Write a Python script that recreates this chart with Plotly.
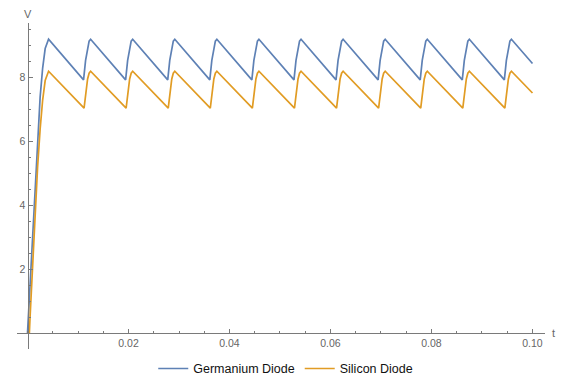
import plotly.graph_objects as go

# Germanium diode output (t in s, V in volts)
ge_t = [0, 0.0005, 0.001, 0.0015, 0.002, 0.0025, 0.003, 0.0035, 0.00417,
        0.0111, 0.0115, 0.0119, 0.0122, 0.0125,
        0.01943, 0.01983, 0.02023, 0.02053, 0.02083,
        0.02777, 0.02817, 0.02857, 0.02887, 0.02917,
        0.0361, 0.0365, 0.0369, 0.0372, 0.0375,
        0.04443, 0.04483, 0.04523, 0.04553, 0.04583,
        0.05277, 0.05317, 0.05357, 0.05387, 0.05417,
        0.0611, 0.0615, 0.0619, 0.0622, 0.0625,
        0.06943, 0.06983, 0.07023, 0.07053, 0.07083,
        0.07777, 0.07817, 0.07857, 0.07887, 0.07917,
        0.0861, 0.0865, 0.0869, 0.0872, 0.0875,
        0.09443, 0.09483, 0.09523, 0.09553, 0.09583,
        0.1]
ge_v = [0, 1.47, 3.19, 4.78, 6.19, 7.37, 8.28, 8.89, 9.18,
        7.91, 8.52, 8.94, 9.12, 9.18,
        7.91, 8.52, 8.94, 9.12, 9.18,
        7.91, 8.52, 8.94, 9.12, 9.18,
        7.91, 8.52, 8.94, 9.12, 9.18,
        7.91, 8.52, 8.94, 9.12, 9.18,
        7.91, 8.52, 8.94, 9.12, 9.18,
        7.91, 8.52, 8.94, 9.12, 9.18,
        7.91, 8.52, 8.94, 9.12, 9.18,
        7.91, 8.52, 8.94, 9.12, 9.18,
        7.91, 8.52, 8.94, 9.12, 9.18,
        7.91, 8.52, 8.94, 9.12, 9.18,
        8.42]

# Silicon diode output
si_t = [0, 0.00037, 0.0005, 0.001, 0.0015, 0.002, 0.0025, 0.003, 0.0035, 0.00417,
        0.0112, 0.0115, 0.0119, 0.0122, 0.0125,
        0.01953, 0.01983, 0.02023, 0.02053, 0.02083,
        0.02787, 0.02817, 0.02857, 0.02887, 0.02917,
        0.0362, 0.0365, 0.0369, 0.0372, 0.0375,
        0.04453, 0.04483, 0.04523, 0.04553, 0.04583,
        0.05287, 0.05317, 0.05357, 0.05387, 0.05417,
        0.0612, 0.0615, 0.0619, 0.0622, 0.0625,
        0.06953, 0.06983, 0.07023, 0.07053, 0.07083,
        0.07787, 0.07817, 0.07857, 0.07887, 0.07917,
        0.0862, 0.0865, 0.0869, 0.0872, 0.0875,
        0.09453, 0.09483, 0.09523, 0.09553, 0.09583,
        0.1]
si_v = [0, 0, 0.47, 2.19, 3.78, 5.19, 6.37, 7.28, 7.89, 8.18,
        7.03, 7.52, 7.94, 8.12, 8.18,
        7.03, 7.52, 7.94, 8.12, 8.18,
        7.03, 7.52, 7.94, 8.12, 8.18,
        7.03, 7.52, 7.94, 8.12, 8.18,
        7.03, 7.52, 7.94, 8.12, 8.18,
        7.03, 7.52, 7.94, 8.12, 8.18,
        7.03, 7.52, 7.94, 8.12, 8.18,
        7.03, 7.52, 7.94, 8.12, 8.18,
        7.03, 7.52, 7.94, 8.12, 8.18,
        7.03, 7.52, 7.94, 8.12, 8.18,
        7.03, 7.52, 7.94, 8.12, 8.18,
        7.50]

x_ticks = [0.02, 0.04, 0.06, 0.08, 0.10]
x_labels = ["0.02", "0.04", "0.06", "0.08", "0.10"]
y_ticks = [2, 4, 6, 8]
y_labels = ["2", "4", "6", "8"]

series_names = ["Germanium Diode", "Silicon Diode"]
colors = ["#5E81B5", "#E19C24"]

xmin, xmax = -0.00208, 0.10248
ymin, ymax = -0.5, 9.6875

axis_col = "#7a7a7a"
label_col = "#666666"
font_fam = "Liberation Sans, Arial, sans-serif"

fig = go.Figure()
fig.add_trace(go.Scatter(x=ge_t, y=ge_v, mode="lines", name=series_names[0],
                         line=dict(color=colors[0], width=1.7)))
fig.add_trace(go.Scatter(x=si_t, y=si_v, mode="lines", name=series_names[1],
                         line=dict(color=colors[1], width=1.7)))

fig.update_layout(
    width=562, height=382,
    margin=dict(l=9, r=25, t=15, b=41, autoexpand=False),
    paper_bgcolor="white", plot_bgcolor="white",
    font=dict(family=font_fam, color=label_col),
    xaxis=dict(range=[xmin, xmax], anchor="free",
               position=(0 - ymin) / (ymax - ymin),
               showgrid=False, zeroline=False, showline=True,
               linecolor=axis_col, linewidth=1,
               tickmode="array", tickvals=x_ticks, ticktext=x_labels,
               ticks="inside", ticklen=4, tickcolor=axis_col, tickwidth=1,
               tickfont=dict(size=10.5, color=label_col, family=font_fam),
               minor=dict(tickmode="linear", tick0=0, dtick=0.005,
                          ticks="inside", ticklen=2.5, tickcolor=axis_col,
                          showgrid=False),
               automargin=False),
    yaxis=dict(range=[ymin, ymax], anchor="free",
               position=(0 - xmin) / (xmax - xmin),
               showgrid=False, zeroline=False, showline=True,
               linecolor=axis_col, linewidth=1,
               tickmode="array", tickvals=y_ticks, ticktext=y_labels,
               ticks="inside", ticklen=4, tickcolor=axis_col, tickwidth=1,
               tickfont=dict(size=10.5, color=label_col, family=font_fam),
               minor=dict(tickmode="linear", tick0=0, dtick=0.5,
                          ticks="inside", ticklen=2.5, tickcolor=axis_col,
                          showgrid=False),
               automargin=False),
    legend=dict(orientation="h", x=0.509, xanchor="center",
                y=-0.061, yanchor="middle",
                font=dict(size=12.5, color="#111111", family=font_fam),
                bgcolor="rgba(0,0,0,0)"),
    showlegend=True,
    annotations=[
        dict(text="V", xref="x", x=0, yref="paper", y=1, xanchor="center",
             yanchor="bottom", yshift=1, showarrow=False,
             font=dict(size=11, color=label_col, family=font_fam)),
        dict(text="t", xref="paper", x=1, yref="y", y=0, xanchor="left",
             yanchor="middle", xshift=5, showarrow=False,
             font=dict(size=11, color=label_col, family=font_fam)),
    ],
)

fig.write_html("out.html")
